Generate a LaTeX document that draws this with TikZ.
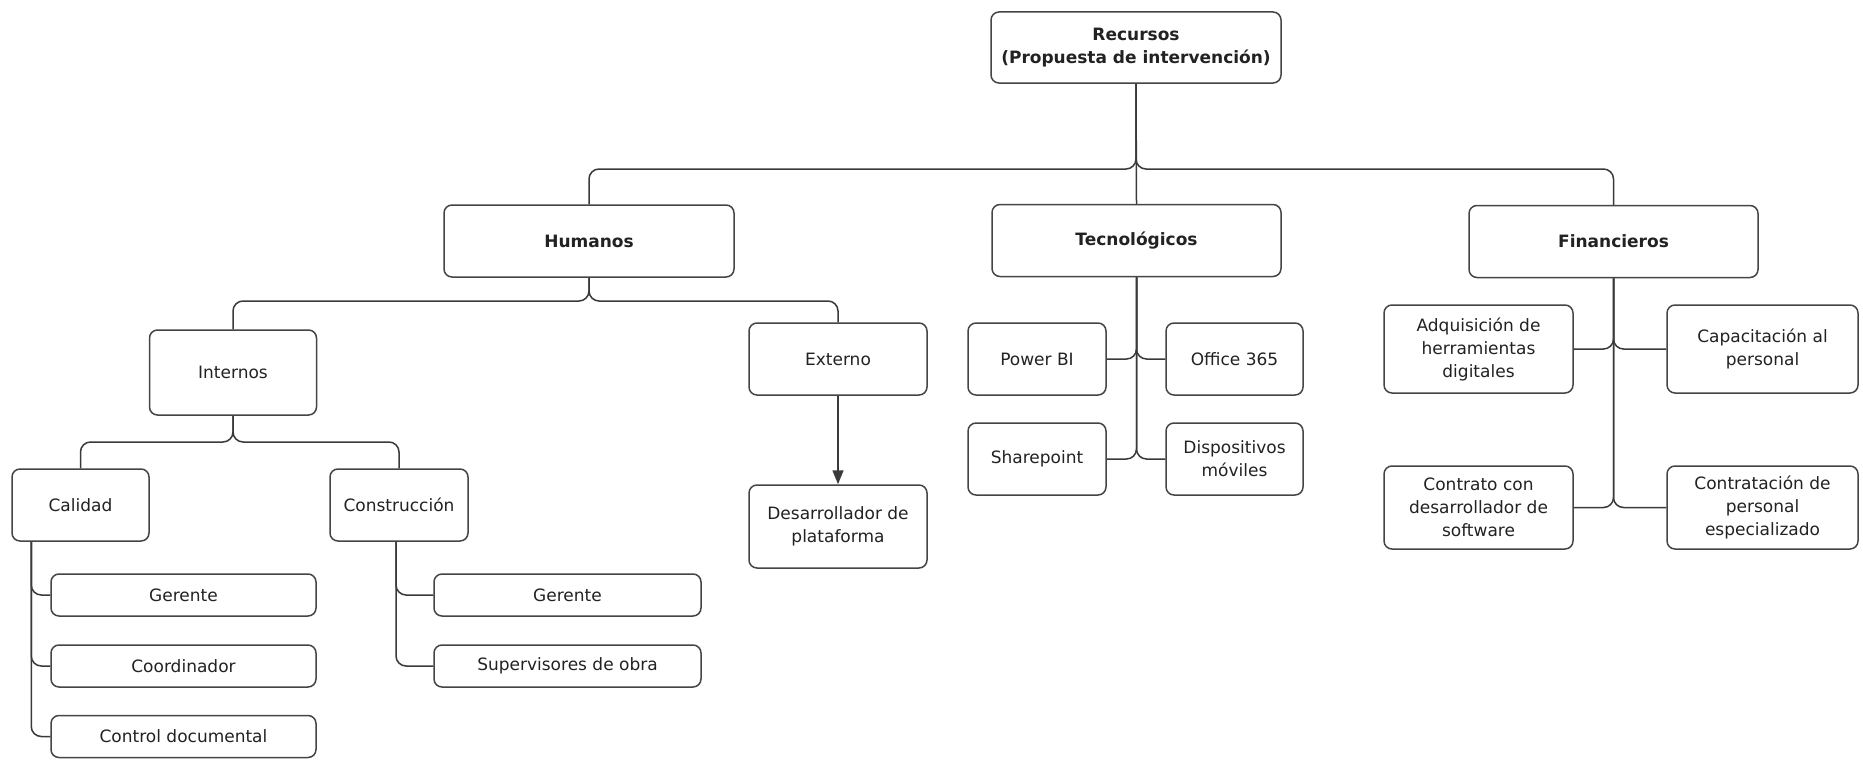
\documentclass[tikz,border=0pt]{standalone}
\usepackage{fontspec}
\setmainfont{DejaVu Sans}
\usetikzlibrary{arrows.meta}
\definecolor{boxc}{HTML}{454545}
\definecolor{linec}{HTML}{3A3A3A}
\definecolor{txt}{HTML}{222222}
\begin{document}
\begin{tikzpicture}[x=1pt,y=-1pt,
  box/.style={draw=boxc, line width=1.5pt, rounded corners=8pt, align=center,
    inner sep=0pt, text=txt, font=\fontsize{17}{23}\selectfont},
  bbox/.style={box, font=\fontsize{17}{23}\selectfont\bfseries},
  conn/.style={draw=linec, line width=1.5pt, rounded corners=10pt},
  arr/.style={draw=linec, line width=1.5pt, -{Triangle[length=14pt,width=11pt]}},
]
\useasboundingbox[fill=white] (0,0) rectangle (1863,760);

% level 0
\node[bbox, minimum width=290pt, minimum height=71pt] (rec) at (1136,47.5) {Recursos\\(Propuesta de intervención)};

% level 1
\node[bbox, minimum width=290pt, minimum height=72pt] (hum) at (589,241) {Humanos};
\node[bbox, minimum width=289pt, minimum height=72pt] (tec) at (1136.5,240.5) {Tecnológicos};
\node[bbox, minimum width=289pt, minimum height=72pt] (fin) at (1613.5,241.5) {Financieros};

% Humanos
\node[box, minimum width=167pt, minimum height=85pt] (int) at (233,372.5) {Internos};
\node[box, minimum width=178pt, minimum height=72pt] (ext) at (838,359) {Externo};
\node[box, minimum width=178pt, minimum height=83pt] (des) at (838,526.5) {Desarrollador de\\plataforma};
\node[box, minimum width=137pt, minimum height=72pt] (cal) at (80.5,505) {Calidad};
\node[box, minimum width=138pt, minimum height=72pt] (con) at (399,505) {Construcción};
\node[box, minimum width=265pt, minimum height=42pt] (cg) at (183.5,595) {Gerente};
\node[box, minimum width=265pt, minimum height=42pt] (cc) at (183.5,666) {Coordinador};
\node[box, minimum width=265pt, minimum height=42pt] (cd) at (183.5,736.5) {Control documental};
\node[box, minimum width=267pt, minimum height=42pt] (kg) at (567.5,595) {Gerente};
\node[box, minimum width=267pt, minimum height=42pt] (ks) at (567.5,666) {Supervisores de obra};

% Tecnologicos
\node[box, minimum width=138pt, minimum height=72pt] (pbi) at (1037,359) {Power BI};
\node[box, minimum width=137pt, minimum height=72pt] (off) at (1234.5,359) {Office 365};
\node[box, minimum width=138pt, minimum height=72pt] (sha) at (1037,459) {Sharepoint};
\node[box, minimum width=137pt, minimum height=72pt] (dis) at (1234.5,459) {Dispositivos\\móviles};

% Financieros
\node[box, minimum width=189pt, minimum height=88pt] (adq) at (1478.5,349) {Adquisición de\\herramientas\\digitales};
\node[box, minimum width=191pt, minimum height=88pt] (cap) at (1762.5,349) {Capacitación al\\personal};
\node[box, minimum width=189pt, minimum height=83pt] (ctr) at (1478.5,507.5) {Contrato con\\desarrollador de\\software};
\node[box, minimum width=191pt, minimum height=83pt] (ctn) at (1762.5,507.5) {Contratación de\\personal\\especializado};

% bus coordinates
\coordinate (b0) at (1136,169);
\coordinate (b1) at (589,301);
\coordinate (b2) at (233,442);

% connectors
\draw[conn] (rec.south) -- (b0) -| (hum.north);
\draw[conn] (rec.south) -- (b0) -| (fin.north);
\draw[conn] (rec.south) -- (tec.north);

\draw[conn] (hum.south) -- (b1) -| (int.north);
\draw[conn] (hum.south) -- (b1) -| (ext.north);
\draw[arr] (ext.south) -- (des.north);

\draw[conn] (int.south) -- (b2) -| (cal.north);
\draw[conn] (int.south) -- (b2) -| (con.north);

\draw[conn] ([xshift=20pt]cal.south west) |- (cg.west);
\draw[conn] ([xshift=20pt]cal.south west) |- (cc.west);
\draw[conn] ([xshift=20pt]cal.south west) |- (cd.west);

\draw[conn] ([xshift=-3pt]con.south) |- (kg.west);
\draw[conn] ([xshift=-3pt]con.south) |- (ks.west);

\draw[conn] (tec.south) |- (pbi.east);
\draw[conn] (tec.south) |- (off.west);
\draw[conn] (tec.south) |- (sha.east);
\draw[conn] (tec.south) |- (dis.west);

\draw[conn] (fin.south) |- (adq.east);
\draw[conn] (fin.south) |- (cap.west);
\draw[conn] (fin.south) |- (ctr.east);
\draw[conn] (fin.south) |- (ctn.west);
\end{tikzpicture}
\end{document}
